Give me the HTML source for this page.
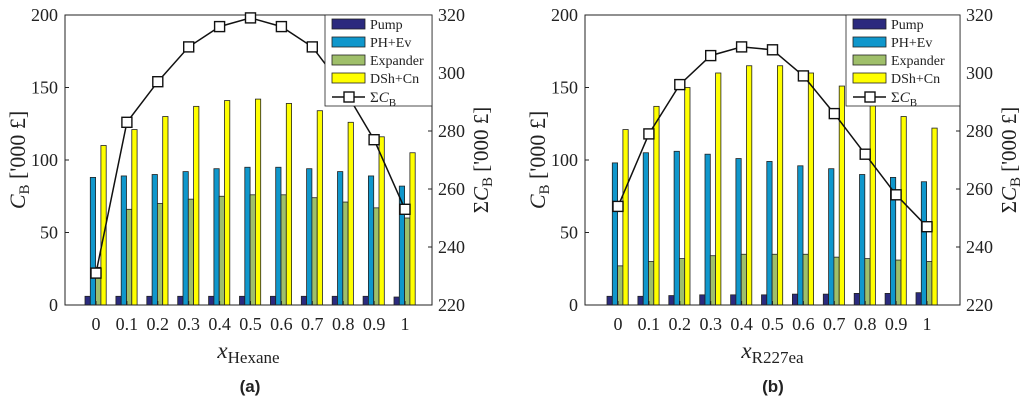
<!DOCTYPE html>
<html><head><meta charset="utf-8"><style>
body{margin:0;background:#fff}
svg text{font-family:"Liberation Serif",serif;fill:#222}
</style></head><body>
<svg id="fig" width="1024" height="402" xmlns="http://www.w3.org/2000/svg"></svg>
<script>
const categories=["0","0.1","0.2","0.3","0.4","0.5","0.6","0.7","0.8","0.9","1"];
const leftTicks=[0,50,100,150,200];
const rightTicks=[220,240,260,280,300,320];
const seriesNames=["Pump","PH+Ev","Expander","DSh+Cn"];
const seriesColors=["#2b2a7e","#0f97cc","#9fbf6a","#ffff00"];
const hexPump=[6,6,6,6,6,6,6,6,6,6,5.5];
const hexPH=[88,89,90,92,94,95,95,94,92,89,82];
const hexExp=[26,66,70,73,75,76,76,74,71,67,60];
const hexDSh=[110,121,130,137,141,142,139,134,126,116,105];
const hexSum=[231,283,297,309,316,319,316,309,295,277,253];
const r2Pump=[6,6,6.5,7,7,7,7.5,7.5,8,8,8.5];
const r2PH=[98,105,106,104,101,99,96,94,90,88,85];
const r2Exp=[27,30,32,34,35,35,35,33,32,31,30];
const r2DSh=[121,137,150,160,165,165,160,151,142,130,122];
const r2Sum=[254,279,296,306,309,308,299,286,272,258,247];

const svg=document.getElementById('fig');
const NS='http://www.w3.org/2000/svg';
function mk(tag,attrs,parent,txt){const e=document.createElementNS(NS,tag);for(const k in attrs)e.setAttribute(k,attrs[k]);if(txt!==undefined)e.textContent=txt;(parent||svg).appendChild(e);return e;}

function chart(id,x0,x1,c0,c1,series,sum,sub,caption,capX,legX){
  const y0=15,y1=305;
  const g=mk('g',{});
  
  
  const yL=v=>y1-(v/200)*(y1-y0);
  const yR=v=>y1-((v-220)/100)*(y1-y0);
  const xC=i=>c0+i*(c1-c0)/(categories.length-1);
  const bw=5.3;
  series.forEach((arr,s)=>{
    arr.forEach((v,i)=>{
      const r=mk('rect',{x:xC(i)-11+s*bw,y:yL(v),width:bw,height:y1-yL(v),fill:seriesColors[s],stroke:'#222','stroke-width':0.8},g);
      
      
    });
  });
  const box=mk('rect',{x:x0,y:y0,width:x1-x0,height:y1-y0,fill:'none',stroke:'#222','stroke-width':1},g);
  
  
  leftTicks.forEach(v=>{
    mk('line',{x1:x0,x2:x0+4,y1:yL(v),y2:yL(v),stroke:'#222'},g);
    const t=mk('text',{x:x0-7,y:yL(v)+6,'text-anchor':'end','font-size':18},g,v);
    
    
  });
  rightTicks.forEach(v=>{
    mk('line',{x1:x1,x2:x1-4,y1:yR(v),y2:yR(v),stroke:'#222'},g);
    const t=mk('text',{x:x1+6,y:yR(v)+6,'font-size':18},g,v);
    
    
  });
  categories.forEach((c,i)=>{
    mk('line',{x1:xC(i),x2:xC(i),y1:y1,y2:y1-4,stroke:'#222'},g);
    const t=mk('text',{x:xC(i),y:y1+25,'text-anchor':'middle','font-size':18},g,c);
    
    
  });
  const pts=sum.map((v,i)=>xC(i)+','+yR(v)).join(' ');
  const pl=mk('polyline',{points:pts,fill:'none',stroke:'#111','stroke-width':1.5},g);
  
  
  sum.forEach((v,i)=>{
    const m=mk('rect',{x:xC(i)-5,y:yR(v)-5,width:10,height:10,fill:'#fff',stroke:'#111','stroke-width':1.4},g);
    
    
  });
  const lg=mk('g',{},g);
  
  
  mk('rect',{x:legX,y:y0,width:x1-legX,height:91,fill:'#fff',stroke:'#222','stroke-width':0.8},lg);
  seriesNames.forEach((n,s)=>{
    const yy=y0+10+s*18;
    mk('rect',{x:legX+7,y:yy-6,width:33,height:10,fill:seriesColors[s],stroke:'#222','stroke-width':0.8},lg);
    const t=mk('text',{x:legX+45,y:yy+4,'font-size':14},lg,n);
    
    
  });
  const ly=y0+10+4*18;
  mk('line',{x1:legX+7,x2:legX+40,y1:ly,y2:ly,stroke:'#111','stroke-width':1.5},lg);
  mk('rect',{x:legX+19,y:ly-5,width:10,height:10,fill:'#fff',stroke:'#111','stroke-width':1.4},lg);
  const lt=mk('text',{x:legX+45,y:ly+5,'font-size':15},lg);
  lt.innerHTML='Σ<tspan font-style="italic">C</tspan><tspan font-size="11" dy="4">B</tspan>';
  
  
  const yl=mk('text',{transform:`translate(${x0-40},160) rotate(-90)`,'text-anchor':'middle','font-size':22},g);
  yl.innerHTML='<tspan font-style="italic">C</tspan><tspan font-size="15" dy="4">B</tspan><tspan dy="-4"> [\'000 £]</tspan>';
  
  
  const yr=mk('text',{transform:`translate(${x1+56},160) rotate(-90)`,'text-anchor':'middle','font-size':21},g);
  yr.innerHTML='Σ<tspan font-style="italic">C</tspan><tspan font-size="15" dy="4">B</tspan><tspan dy="-4"> [\'000 £]</tspan>';
  
  
  const xl=mk('text',{x:(x0+x1)/2,y:358,'text-anchor':'middle','font-size':23},g);
  xl.innerHTML='<tspan font-style="italic">x</tspan><tspan font-size="17" dy="5">'+sub+'</tspan>';
  
  
  const cp=mk('text',{x:capX,y:392,'text-anchor':'middle','font-size':17,'font-weight':'bold',style:'font-family:"Liberation Sans",sans-serif'},g,caption);
  
  
}
chart('chart-hexane',65,432,96,405,[hexPump,hexPH,hexExp,hexDSh],hexSum,'Hexane','(a)',250,325);
chart('chart-r227ea',585,960,618,927,[r2Pump,r2PH,r2Exp,r2DSh],r2Sum,'R227ea','(b)',773,846);
</script>
</body></html>
